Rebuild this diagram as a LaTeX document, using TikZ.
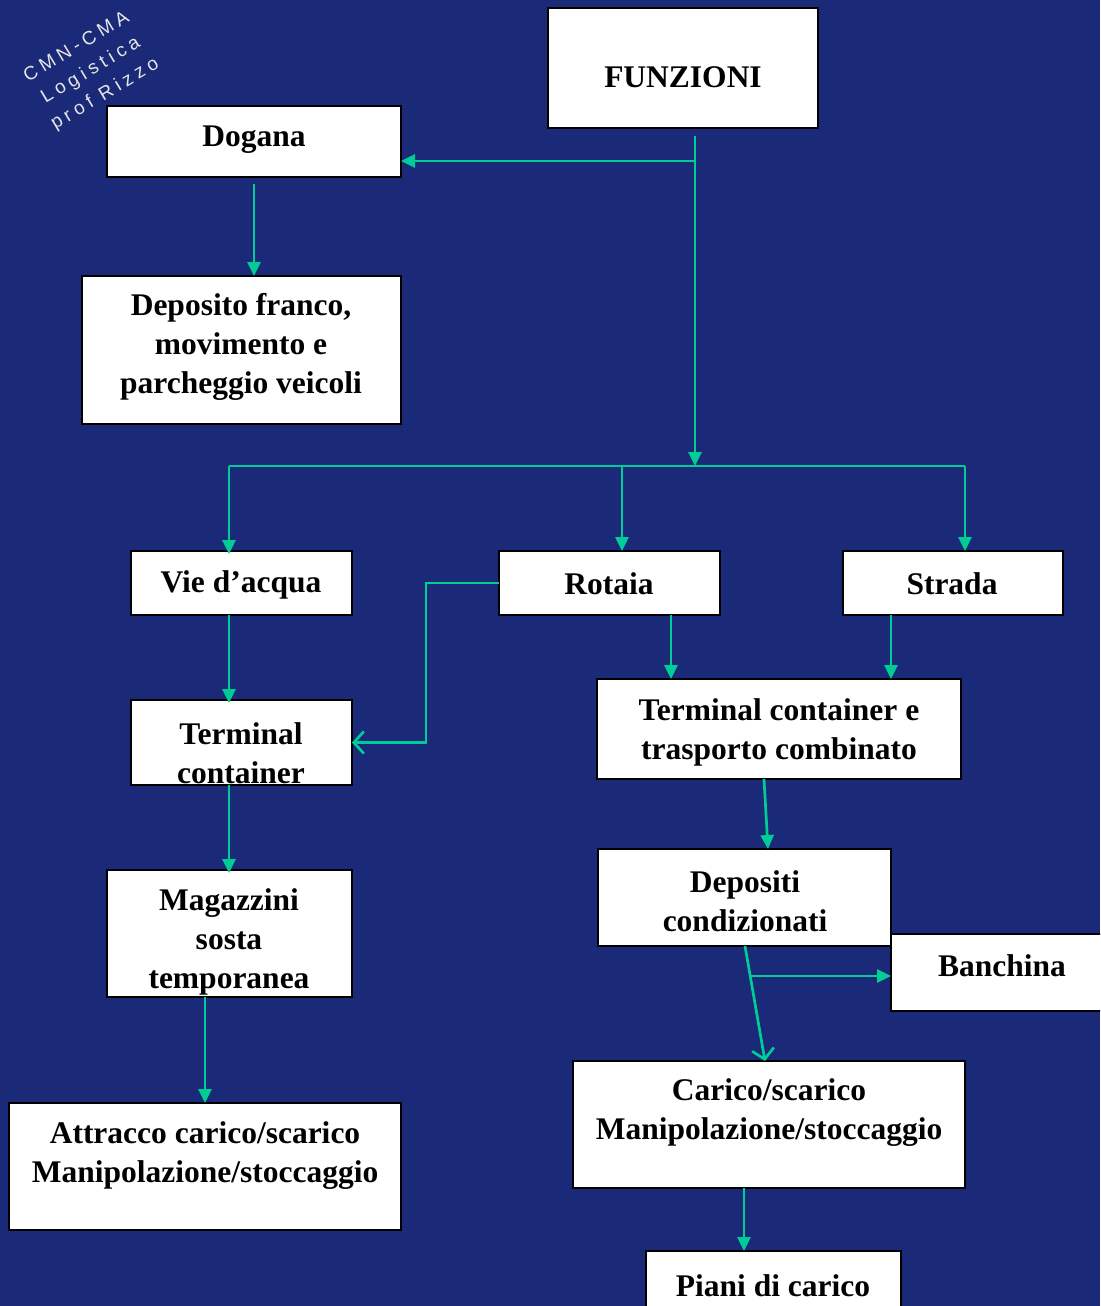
\documentclass[tikz,border=0pt]{standalone}
\usepackage{fontspec}
\setmainfont{Liberation Serif}
\newfontfamily\wmfont[LetterSpace=24]{Liberation Sans}
\usetikzlibrary{arrows.meta}
\definecolor{navy}{RGB}{26,41,120}
\definecolor{flow}{RGB}{0,204,150}
\definecolor{wmgray}{RGB}{230,230,230}
\begin{document}
\begin{tikzpicture}[x=1pt,y=-1pt,
  box/.style={draw=black,fill=white,line width=2.6pt,inner sep=0pt,outer sep=0pt,anchor=north west},
  lbl/.style={font=\fontsize{31.5}{39}\selectfont\bfseries,align=center,inner sep=0pt},
  flowline/.style={draw=flow,line width=2.7pt},
  tip/.style={-{Triangle[length=14pt,width=13pt]}},
  opentip/.style={-{Straight Barb[length=10pt,width=22pt,line width=2.7pt]}},
  wm/.style={text=wmgray,font=\wmfont\fontsize{19}{27.5}\selectfont,align=center,rotate=31,inner sep=0pt}]
% background
\fill[navy] (0,0) rectangle (1100,1306);
\useasboundingbox (0,0) rectangle (1100,1306);
\clip (0,0) rectangle (1100,1306);

% watermark
\node[wm] (wm) at (91,71) {CMN-CMA\\Logistica\\prof Rizzo};

% boxes
\node[box,minimum width=270pt,minimum height=120pt] (funz)   at (548,8)    {};
\node[box,minimum width=294pt,minimum height=71pt]  (dogana) at (107,106)  {};
\node[box,minimum width=319pt,minimum height=148pt] (depfr)  at (82,276)   {};
\node[box,minimum width=221pt,minimum height=64pt]  (vie)    at (131,551)  {};
\node[box,minimum width=221pt,minimum height=64pt]  (rotaia) at (499,551)  {};
\node[box,minimum width=220pt,minimum height=64pt]  (strada) at (843,551)  {};
\node[box,minimum width=221pt,minimum height=85pt]  (term)   at (131,700)  {};
\node[box,minimum width=364pt,minimum height=100pt] (termc)  at (597,679)  {};
\node[box,minimum width=293pt,minimum height=97pt]  (depc)   at (598,849)  {};
\node[box,minimum width=230pt,minimum height=77pt]  (banch)  at (891,934)  {};
\node[box,minimum width=245pt,minimum height=127pt] (magaz)  at (107,870)  {};
\node[box,minimum width=392pt,minimum height=127pt] (attr)   at (9,1103)   {};
\node[box,minimum width=392pt,minimum height=127pt] (carico) at (573,1061) {};
\node[box,minimum width=255pt,minimum height=80pt]  (piani)  at (646,1251) {};

% labels
\node[lbl] (funz-t)   at (683,77)   {FUNZIONI};
\node[lbl] (dogana-t) at (254,140)  {Dogana};
\node[lbl] (depfr-t)  at (241,347)  {Deposito franco,\\movimento e\\parcheggio veicoli};
\node[lbl] (vie-t)    at (241,585)  {Vie d’acqua};
\node[lbl] (rotaia-t) at (609,584)  {Rotaia};
\node[lbl] (strada-t) at (952,584)  {Strada};
\node[lbl] (term-t)   at (241,753)  {Terminal\\container};
\node[lbl] (termc-t)  at (779,732)  {Terminal container e\\trasporto combinato};
\node[lbl] (depc-t)   at (745,901)  {Depositi\\condizionati};
\node[lbl] (banch-t)  at (1002,966) {Banchina};
\node[lbl] (magaz-t)  at (229,942)  {Magazzini\\sosta\\temporanea};
\node[lbl] (attr-t)   at (205,1156) {Attracco carico/scarico\\Manipolazione/stoccaggio};
\node[lbl] (carico-t) at (769,1113) {Carico/scarico\\Manipolazione/stoccaggio};
\node[lbl] (piani-t)  at (773,1286) {Piani di carico};

% junction points
\coordinate (fstart) at (695,136);
\coordinate (dogbr)  at (695,161);
\coordinate (busC)   at (695,466);
\coordinate (busL)   at (229,466);
\coordinate (busM)   at (622,466);
\coordinate (busR)   at (965,466);
\coordinate (rturn)  at (426,0);
\coordinate (banbr)  at (750,976);

% connectors
\draw[flowline,tip] (fstart) -- (busC);
\draw[flowline,tip] (dogbr) -- (dogana.east |- dogbr);
\draw[flowline,tip] ([yshift=-7pt]dogana.south) -- (depfr.north -| dogana.south);
\draw[flowline] (busL) -- (busR);
\draw[flowline,tip] (busL) -- ([yshift=-3pt]vie.north -| busL);
\draw[flowline,tip] (busM) -- (rotaia.north -| busM);
\draw[flowline,tip] (busR) -- (strada.north -| busR);
\draw[flowline,tip] (vie.south -| busL) -- ([yshift=-3pt]term.north -| busL);
\draw[flowline,opentip] (rotaia.west) -- (rotaia.west -| rturn) |- (term.east);
\draw[flowline,tip] ([xshift=61.5pt]rotaia.south) -- ([xshift=61.5pt]rotaia.south |- termc.north);
\draw[flowline,tip] ([xshift=-62pt]strada.south) -- ([xshift=-62pt]strada.south |- termc.north);
\draw[flowline,tip] (term.south -| busL) -- ([yshift=-3pt]magaz.north -| busL);
\draw[flowline,tip] ([xshift=-15pt]termc.south) -- ([xshift=23.5pt]depc.north);
\draw[flowline,opentip] ([xshift=0.5pt]depc.south) -- ([xshift=-4pt]carico.north);
\draw[flowline,tip] (banbr) -- (banch.west |- banbr);
\draw[flowline,tip] ([xshift=-24.5pt]magaz.south) -- (attr.north);
\draw[flowline,tip] ([xshift=-25pt]carico.south) -- ([xshift=-25pt]carico.south |- piani.north);
\end{tikzpicture}
\end{document}
